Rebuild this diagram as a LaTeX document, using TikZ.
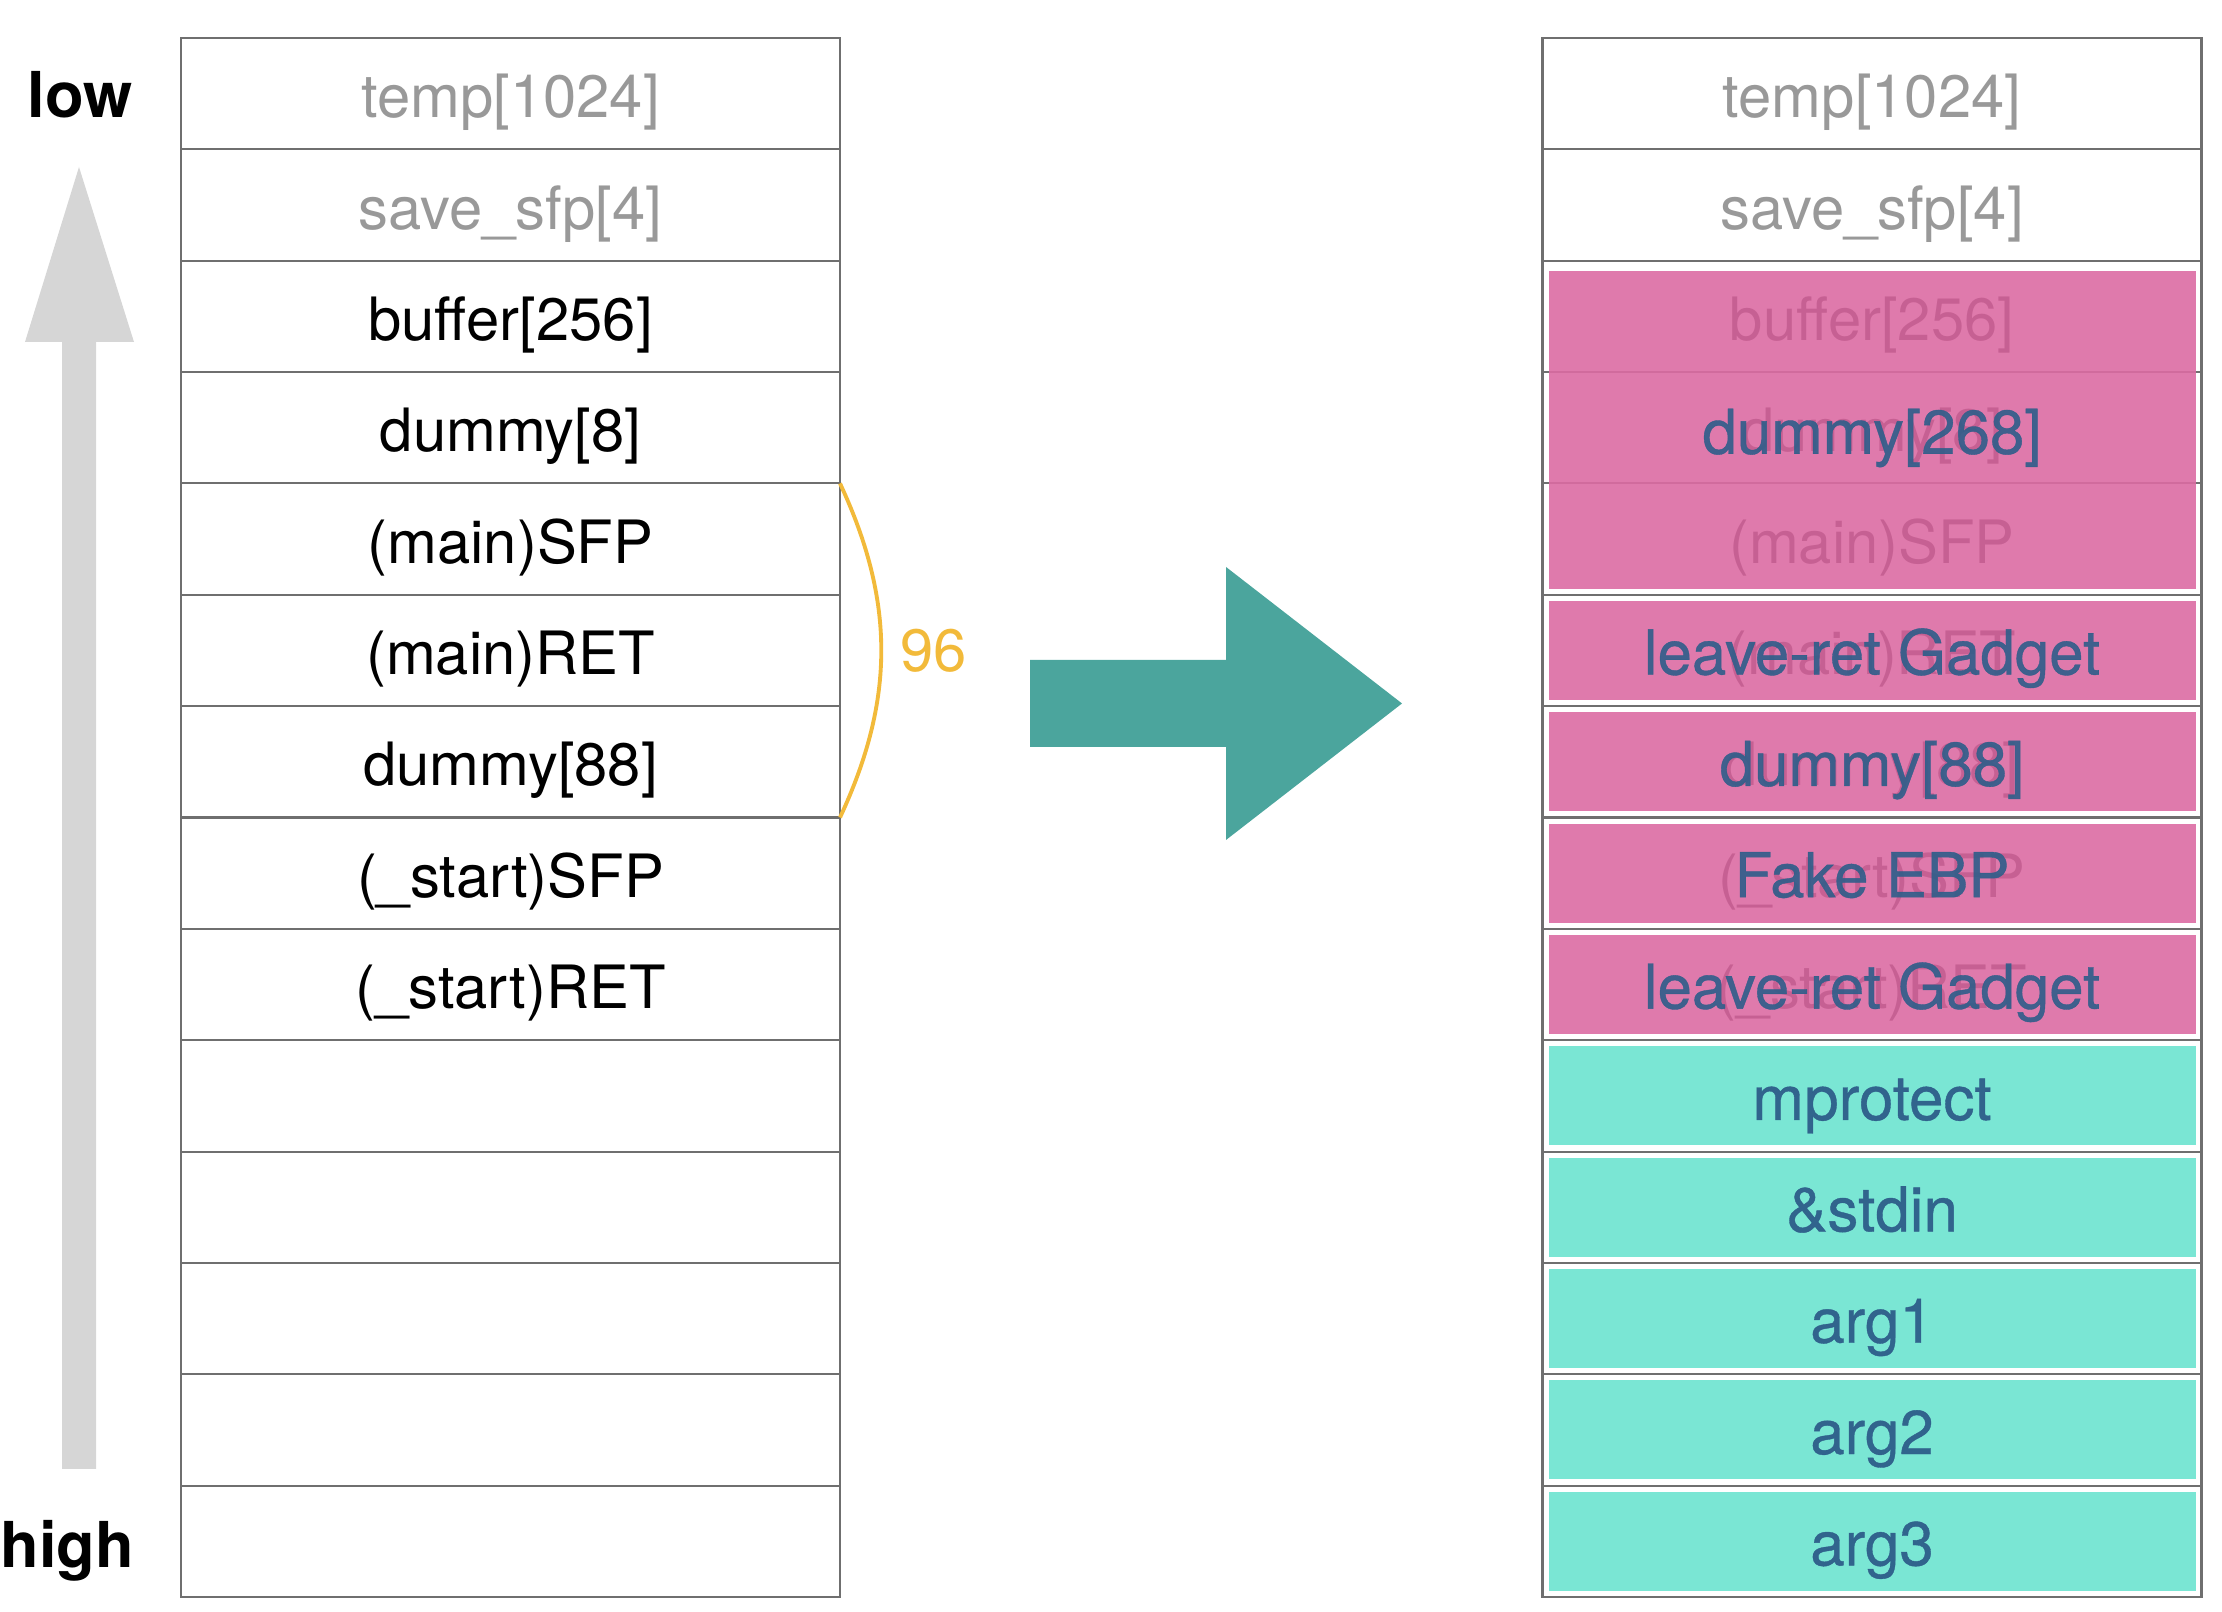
\documentclass[tikz,border=0pt]{standalone}
\usepackage{fontspec}
\setmainfont{TeX Gyre Heros}
\newfontfamily\medfont[FakeBold=0.6]{TeX Gyre Heros}
\usetikzlibrary{positioning}
\definecolor{cellline}{HTML}{6F6F6F}
\definecolor{oldgray}{HTML}{999999}
\definecolor{growth}{HTML}{D6D6D6}
\definecolor{gap}{HTML}{F2BA3A}
\definecolor{flow}{HTML}{4BA59D}
\definecolor{overpink}{HTML}{DC6BA3}
\definecolor{overteal}{HTML}{7AE6D4}
\definecolor{overtext}{HTML}{2E5E8A}

\begin{document}
\begin{tikzpicture}[inner sep=0pt,outer sep=0pt,node distance=0pt,
	font=\fontsize{17}{20}\selectfont,
	cell/.style={draw=cellline,line width=0.6pt,minimum width=6.59cm,minimum height=1.1136cm,text height=13.7pt,text depth=0pt},
	old/.style={cell,text=oldgray},
	hack/.style={fill=overpink,fill opacity=0.9,text opacity=0.9,text=overtext,minimum width=6.47cm,minimum height=0.99cm,
		font=\fontsize{17.6}{20}\medfont,text height=13.7pt,text depth=0pt},
	args/.style={hack,fill=overteal,fill opacity=1,text opacity=0.95},
	tag/.style={font=\fontsize{18}{20}\selectfont\bfseries,anchor=base}]
	\useasboundingbox (0,0) rectangle (22.22,16.12);
	% low -> high
	\fill [growth] (0.62,1.43) -- (0.62,12.70) -- (0.25,12.70) -- (0.79,14.45) -- (1.34,12.70) -- (0.96,12.70) -- (0.96,1.43) -- cycle;
	\node [tag] (low) at (0.80,14.94) {low};
	\node [tag] (high) at (0.675,0.44) {high};
	% stack before
	\node [old] (l1) at (5.105,15.1832) {temp[1024]};
	\node [old,below=of l1] (l2) {save\_sfp[4]};
	\node [cell,below=of l2] (l3) {buffer[256]};
	\node [cell,below=of l3] (l4) {dummy[8]};
	\node [cell,below=of l4] (l5) {(main)SFP};
	\node [cell,below=of l5] (l6) {(main)RET};
	\node [cell,below=of l6] (l7) {dummy[88]};
	\node [cell,below=of l7] (l8) {(\_start)SFP};
	\node [cell,below=of l8] (l9) {(\_start)RET};
	\node [cell,below=of l9] (l10) {};
	\node [cell,below=of l10] (l11) {};
	\node [cell,below=of l11] (l12) {};
	\node [cell,below=of l12] (l13) {};
	\node [cell,below=of l13] (l14) {};
	\path [draw=gap,line width=1.1pt]
	(l5.north east) edge [bend left=25] node [right,inner sep=5.5pt,text=gap] (n96) {96} (l7.south east);
	% stack after
	\fill [flow] (10.30,9.52) -- (12.26,9.52) -- (12.26,10.45) -- (14.02,9.085) -- (12.26,7.72) -- (12.26,8.65) -- (10.30,8.65) -- cycle;
	\node [old] (r1) at (18.72,15.1832) {temp[1024]};
	\node [old,below=of r1] (r2) {save\_sfp[4]};
	\node [cell,below=of r2] (r3) {buffer[256]};
	\node [cell,below=of r3] (r4) {dummy[8]};
	\node [cell,below=of r4] (r5) {(main)SFP};
	\node [cell,below=of r5] (r6) {(main)RET};
	\node [cell,below=of r6] (r7) {dummy[88]};
	\node [cell,below=of r7] (r8) {(\_start)SFP};
	\node [cell,below=of r8] (r9) {(\_start)RET};
	\node [cell,below=of r9] (r10) {};
	\node [cell,below=of r10] (r11) {};
	\node [cell,below=of r11] (r12) {};
	\node [cell,below=of r12] (r13) {};
	\node [cell,below=of r13] (r14) {};
	\node [hack,minimum height=3.18cm] (dummy268) at ([yshift=-0.02cm]r4) {dummy[268]};
	\node [hack] (leave1) at (r6) {leave-ret Gadget};
	\node [hack] (dummy88) at (r7) {dummy[88]};
	\node [hack] (fakeebp) at (r8) {Fake EBP};
	\node [hack] (leave2) at (r9) {leave-ret Gadget};
	\node [args] (mprot) at (r10) {mprotect};
	\node [args] (stdin) at (r11) {\&stdin};
	\node [args] (arg1) at (r12) {arg1};
	\node [args] (arg2) at (r13) {arg2};
	\node [args] (arg3) at (r14) {arg3};
\end{tikzpicture}
\end{document}
